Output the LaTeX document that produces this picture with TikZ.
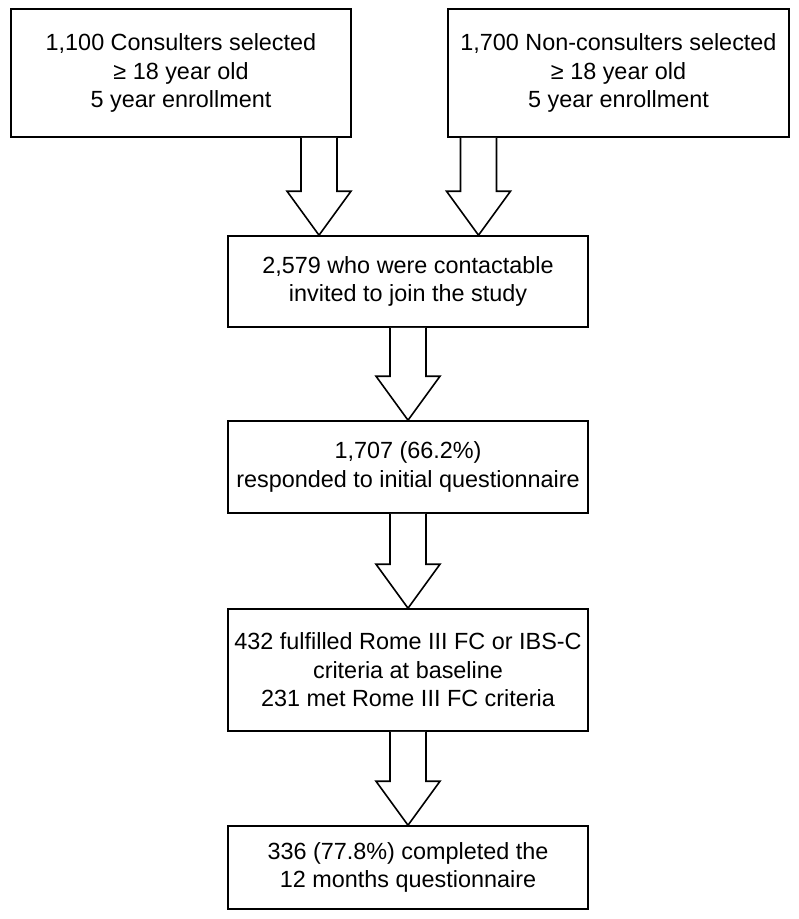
\documentclass[tikz,border=0pt]{standalone}
\usepackage{fontspec}
\setmainfont{Liberation Sans}
\usetikzlibrary{calc}
\tikzset{
  box/.style={draw=black, line width=1.6pt, fill=white, align=center, inner sep=0pt,
    font=\fontsize{23.4}{28.5}\selectfont, anchor=center},
  blockarr/.style={draw=black, line width=1.6pt, fill=white, line join=miter},
}
\newcommand\barrow[3]{%
  \path (#1 |- #2.south) coordinate (T) (#1 |- #3.north) coordinate (B);
  \draw[blockarr] ($(T)+(-18,0)$) -- ($(B)+(-18,-44)$) -- ($(B)+(-32,-44)$) -- (B)
     -- ($(B)+(32,-44)$) -- ($(B)+(18,-44)$) -- ($(T)+(18,0)$);
}
\begin{document}
\begin{tikzpicture}[x=1pt,y=-1pt]
\useasboundingbox (0,0) rectangle (799,919);
\node[box, minimum width=340pt, minimum height=128pt] (b1) at (181,73)
  {1,100 Consulters selected\\≥ 18 year old\\5 year enrollment};
\node[box, minimum width=341pt, minimum height=128pt] (b2) at (618.5,73)
  {1,700 Non-consulters selected\\≥ 18 year old\\5 year enrollment};
\node[box, minimum width=360pt, minimum height=91pt] (b3) at (408,281.5)
  {2,579 who were contactable\\invited to join the study};
\node[box, minimum width=360pt, minimum height=92pt] (b4) at (408,467)
  {1,707 (66.2\%)\\responded to initial questionnaire};
\node[box, minimum width=360pt, minimum height=122pt] (b5) at (408,670)
  {432 fulfilled Rome III FC or IBS-C\\criteria at baseline\\231 met Rome III FC criteria};
\node[box, minimum width=360pt, minimum height=83pt] (b6) at (408,867.5)
  {336 (77.8\%) completed the\\ 12 months questionnaire};
\coordinate (x1) at (319,0);
\coordinate (x2) at (478.5,0);
\coordinate (x3) at (408,0);
\barrow{x1}{b1}{b3}
\barrow{x2}{b2}{b3}
\barrow{x3}{b3}{b4}
\barrow{x3}{b4}{b5}
\barrow{x3}{b5}{b6}
\end{tikzpicture}
\end{document}
